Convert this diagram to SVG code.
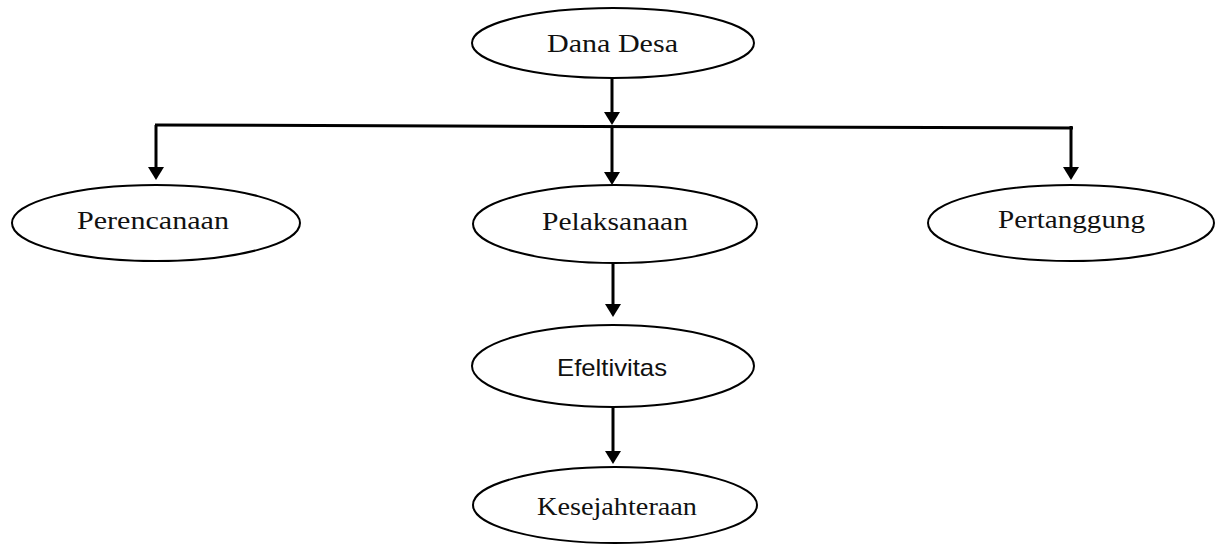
<svg xmlns="http://www.w3.org/2000/svg" width="1217" height="544" viewBox="0 0 1217 544">
<style>
.node ellipse{fill:#fff;stroke:#000;stroke-width:2}
.serif{font-family:"Liberation Serif","Times New Roman",serif;font-size:26px;fill:#111}
.sans{font-family:"Liberation Sans",Arial,sans-serif;font-size:24px;fill:#111}
.conn line,.conn path{stroke:#000;stroke-width:3;fill:none}
</style>
<defs>
<marker id="ah" viewBox="0 0 13 16" refX="6" refY="8" markerWidth="13" markerHeight="16" markerUnits="userSpaceOnUse" orient="auto">
<path d="M0,0 L13,8 L0,16 z" fill="#000"/>
</marker>
</defs>
<rect width="1217" height="544" fill="#fff"/>
<g id="connectors" class="conn">
<line x1="612" y1="78" x2="612" y2="118" marker-end="url(#ah)"/>
<line x1="155" y1="125" x2="1073" y2="128"/>
<line x1="156" y1="125" x2="156" y2="173" marker-end="url(#ah)"/>
<line x1="612" y1="127" x2="612" y2="178" marker-end="url(#ah)"/>
<line x1="1071" y1="126" x2="1071" y2="173" marker-end="url(#ah)"/>
<line x1="613" y1="263" x2="613" y2="310" marker-end="url(#ah)"/>
<line x1="613" y1="407" x2="613" y2="457" marker-end="url(#ah)"/>
</g>
<g id="dana-desa" class="node">
<ellipse cx="613" cy="43" rx="141" ry="35"/>
<text class="serif" x="612.5" y="52" text-anchor="middle" textLength="131" lengthAdjust="spacingAndGlyphs">Dana Desa</text>
</g>
<g id="perencanaan" class="node">
<ellipse cx="156" cy="223" rx="144" ry="38"/>
<text class="serif" x="153" y="229" text-anchor="middle" textLength="152" lengthAdjust="spacingAndGlyphs">Perencanaan</text>
</g>
<g id="pelaksanaan" class="node">
<ellipse cx="615" cy="224" rx="142" ry="39"/>
<text class="serif" x="615" y="230" text-anchor="middle" textLength="146" lengthAdjust="spacingAndGlyphs">Pelaksanaan</text>
</g>
<g id="pertanggung" class="node">
<ellipse cx="1071" cy="223" rx="143" ry="38"/>
<text class="serif" x="1071.5" y="228" text-anchor="middle" textLength="147" lengthAdjust="spacingAndGlyphs">Pertanggung</text>
</g>
<g id="efeltivitas" class="node">
<ellipse cx="613" cy="366" rx="141" ry="41"/>
<text class="sans" x="612" y="376" text-anchor="middle" textLength="110" lengthAdjust="spacingAndGlyphs">Efeltivitas</text>
</g>
<g id="kesejahteraan" class="node">
<ellipse cx="615" cy="505" rx="142" ry="38"/>
<text class="serif" x="617" y="515" text-anchor="middle" textLength="160" lengthAdjust="spacingAndGlyphs">Kesejahteraan</text>
</g>
</svg>
